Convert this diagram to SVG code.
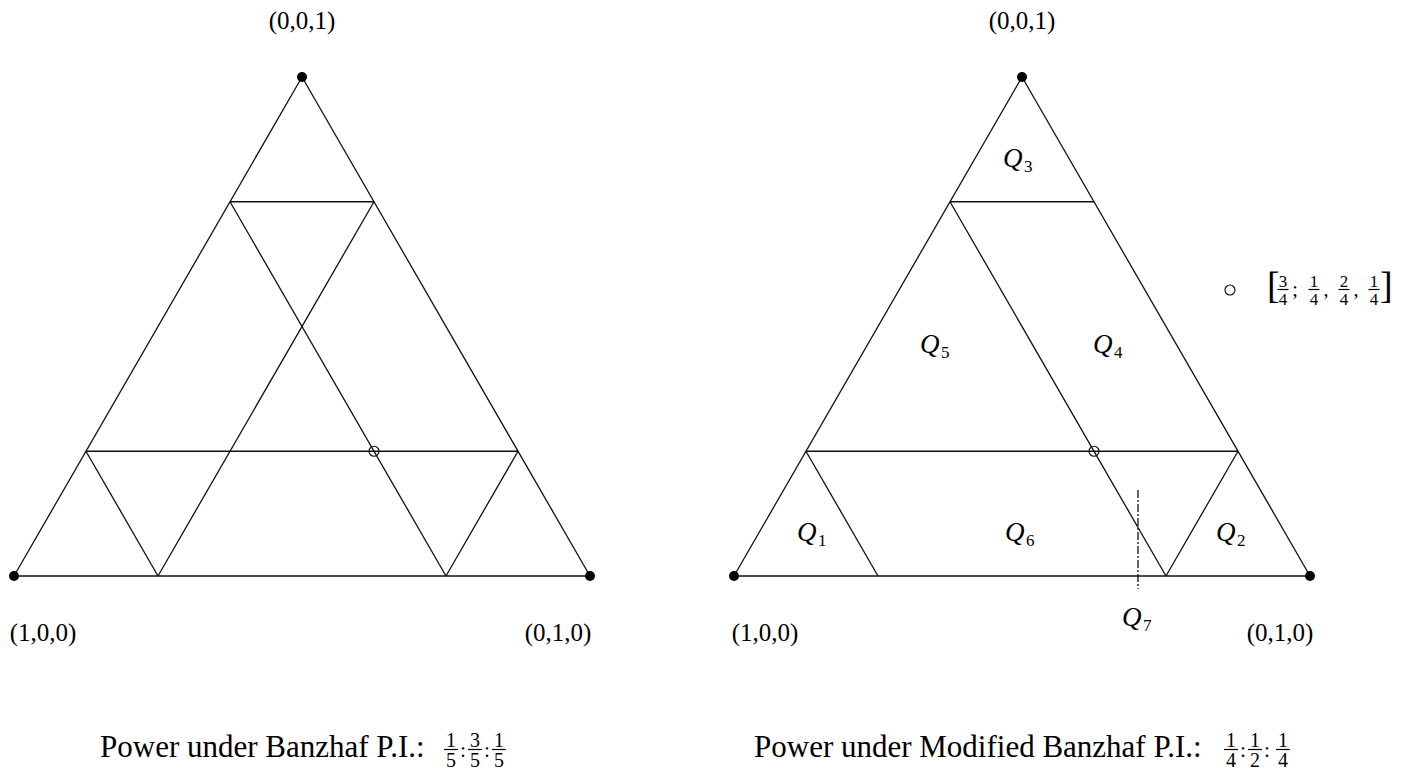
<svg xmlns="http://www.w3.org/2000/svg" width="1409" height="773" viewBox="0 0 1409 773">
<style>
.ln{stroke:#111;stroke-width:1.3;fill:none}
.dash{stroke:#111;stroke-width:1.3;fill:none;stroke-dasharray:8 2 2 2}
.dot{fill:#000}
.oc{fill:none;stroke:#111;stroke-width:1.2}
.lab{font-family:"Liberation Serif",serif;font-size:25px;fill:#000;text-anchor:middle}
.q{font-family:"Liberation Serif",serif;font-size:27px;font-style:italic;fill:#000}
.sub{font-family:"Liberation Serif",serif;font-size:17px;fill:#000}
.cap{font-family:"Liberation Serif",serif;font-size:31px;fill:#000}
.fn{font-family:"Liberation Serif",serif;font-size:20px;fill:#000;text-anchor:middle}
.fs{font-family:"Liberation Serif",serif;font-size:17px;fill:#000;text-anchor:middle}
.bar{stroke:#000;stroke-width:1.2}
</style>
<rect width="1409" height="773" fill="#fff"/>
<g id="connectors">
  <g id="left-lines">
    <line class="ln" x1="14" y1="576" x2="590" y2="576"/>
    <line class="ln" x1="14" y1="576" x2="302" y2="77"/>
    <line class="ln" x1="590" y1="576" x2="302" y2="77"/>
    <line class="ln" x1="230" y1="201.75" x2="374" y2="201.75"/>
    <line class="ln" x1="86" y1="451.25" x2="518" y2="451.25"/>
    <line class="ln" x1="230" y1="201.75" x2="446" y2="576"/>
    <line class="ln" x1="374" y1="201.75" x2="158" y2="576"/>
    <line class="ln" x1="86" y1="451.25" x2="158" y2="576"/>
    <line class="ln" x1="518" y1="451.25" x2="446" y2="576"/>
  </g>
  <g id="right-lines">
    <line class="ln" x1="734" y1="576" x2="1310" y2="576"/>
    <line class="ln" x1="734" y1="576" x2="1022" y2="77"/>
    <line class="ln" x1="1310" y1="576" x2="1022" y2="77"/>
    <line class="ln" x1="950" y1="201.75" x2="1094" y2="201.75"/>
    <line class="ln" x1="806" y1="451.25" x2="1238" y2="451.25"/>
    <line class="ln" x1="950" y1="201.75" x2="1166" y2="576"/>
    <line class="ln" x1="806" y1="451.25" x2="878" y2="576"/>
    <line class="ln" x1="1238" y1="451.25" x2="1166" y2="576"/>
    <line class="dash" x1="1138" y1="490" x2="1138" y2="589"/>
  </g>
</g>
<g id="left-vertices">
  <circle class="dot" cx="302" cy="77" r="5"/>
  <circle class="dot" cx="14" cy="576" r="5"/>
  <circle class="dot" cx="590" cy="576" r="5"/>
  <circle class="oc" cx="374" cy="451.25" r="5"/>
  <text class="lab" x="302" y="29">(0,0,1)</text>
  <text class="lab" x="43" y="641">(1,0,0)</text>
  <text class="lab" x="558" y="641">(0,1,0)</text>
</g>
<g id="right-vertices">
  <circle class="dot" cx="1022" cy="77" r="5"/>
  <circle class="dot" cx="734" cy="576" r="5"/>
  <circle class="dot" cx="1310" cy="576" r="5"/>
  <circle class="oc" cx="1094" cy="451.25" r="5"/>
  <text class="lab" x="1022" y="29">(0,0,1)</text>
  <text class="lab" x="765" y="641">(1,0,0)</text>
  <text class="lab" x="1280" y="641">(0,1,0)</text>
</g>
<g id="regions">
  <g id="Q3"><text class="q" x="1003" y="167">Q</text><text class="sub" x="1024" y="172">3</text></g>
  <g id="Q5"><text class="q" x="920" y="353">Q</text><text class="sub" x="941" y="358">5</text></g>
  <g id="Q4"><text class="q" x="1093" y="353">Q</text><text class="sub" x="1114" y="358">4</text></g>
  <g id="Q1"><text class="q" x="797" y="541">Q</text><text class="sub" x="818" y="546">1</text></g>
  <g id="Q6"><text class="q" x="1005" y="541">Q</text><text class="sub" x="1026" y="546">6</text></g>
  <g id="Q2"><text class="q" x="1216" y="541">Q</text><text class="sub" x="1237" y="546">2</text></g>
  <g id="Q7"><text class="q" x="1122" y="626">Q</text><text class="sub" x="1143" y="631">7</text></g>
</g>
<g id="point-label">
  <circle class="oc" cx="1230" cy="290" r="5"/>
  <text class="cap" x="1267" y="298" style="font-size:38px">[</text>
  <text class="fs" x="1283" y="287">3</text><line class="bar" x1="1277.5" y1="289.5" x2="1288.5" y2="289.5"/><text class="fs" x="1283" y="305">4</text>
  <text class="fn" x="1295" y="296">;</text>
  <text class="fs" x="1314" y="287">1</text><line class="bar" x1="1308.5" y1="289.5" x2="1319.5" y2="289.5"/><text class="fs" x="1314" y="305">4</text>
  <text class="fn" x="1326" y="296">,</text>
  <text class="fs" x="1344" y="287">2</text><line class="bar" x1="1338.5" y1="289.5" x2="1349.5" y2="289.5"/><text class="fs" x="1344" y="305">4</text>
  <text class="fn" x="1356" y="296">,</text>
  <text class="fs" x="1374" y="287">1</text><line class="bar" x1="1368.5" y1="289.5" x2="1379.5" y2="289.5"/><text class="fs" x="1374" y="305">4</text>
  <text class="cap" x="1380" y="298" style="font-size:38px">]</text>
</g>
<g id="caption-left">
  <text class="cap" x="100" y="757">Power under Banzhaf P.I.:</text>
  <text class="fn" x="451" y="747">1</text><line class="bar" x1="444" y1="749.5" x2="458" y2="749.5"/><text class="fn" x="451" y="767">5</text>
  <text class="fn" x="463" y="757">:</text>
  <text class="fn" x="475" y="747">3</text><line class="bar" x1="468" y1="749.5" x2="482" y2="749.5"/><text class="fn" x="475" y="767">5</text>
  <text class="fn" x="487" y="757">:</text>
  <text class="fn" x="499" y="747">1</text><line class="bar" x1="492" y1="749.5" x2="506" y2="749.5"/><text class="fn" x="499" y="767">5</text>
</g>
<g id="caption-right">
  <text class="cap" x="754" y="757">Power under Modified Banzhaf P.I.:</text>
  <text class="fn" x="1231" y="747">1</text><line class="bar" x1="1224" y1="749.5" x2="1238" y2="749.5"/><text class="fn" x="1231" y="767">4</text>
  <text class="fn" x="1243" y="757">:</text>
  <text class="fn" x="1255" y="747">1</text><line class="bar" x1="1248" y1="749.5" x2="1262" y2="749.5"/><text class="fn" x="1255" y="767">2</text>
  <text class="fn" x="1267" y="757">:</text>
  <text class="fn" x="1283" y="747">1</text><line class="bar" x1="1276" y1="749.5" x2="1290" y2="749.5"/><text class="fn" x="1283" y="767">4</text>
</g>
</svg>
